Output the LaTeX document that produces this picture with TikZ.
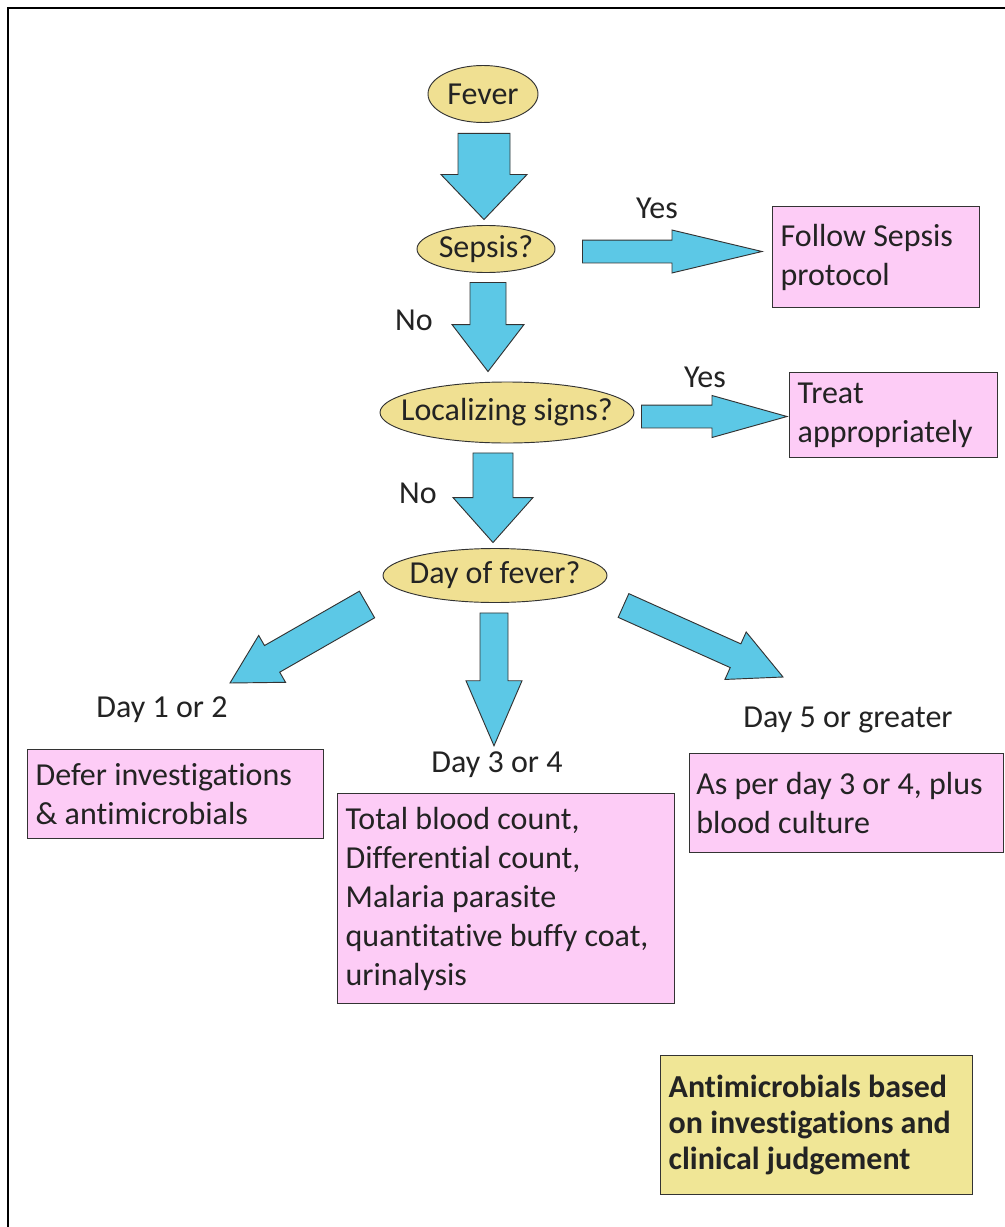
\documentclass[tikz,border=0pt]{standalone}
\usepackage{fontspec}
\setmainfont{Carlito}[Ligatures=NoCommon]
\usetikzlibrary{shapes.geometric,calc}
\definecolor{ellfill}{RGB}{240,224,146}
\definecolor{boxpink}{RGB}{253,204,246}
\definecolor{arrowcyan}{RGB}{92,200,230}
\definecolor{notefill}{RGB}{240,230,150}
\definecolor{txt}{RGB}{35,35,35}
\newcommand{\blockarrow}[5]{%
  \coordinate (bahead) at ($(#2)!#5!(#1)$);
  \draw[barrowstyle] ($(#1)!#3!90:(#2)$) -- ($(bahead)!#3!90:(#2)$) -- ($(bahead)!#4!90:(#2)$) -- (#2) -- ($(bahead)!#4!-90:(#2)$) -- ($(bahead)!#3!-90:(#2)$) -- ($(#1)!#3!-90:(#2)$) -- cycle;}
\begin{document}
\begin{tikzpicture}[x=0.75pt,y=-0.75pt,
  mainfont/.style={font=\fontsize{24}{29.25}\selectfont},
  lbl/.style={mainfont, text=txt, inner sep=0pt},
  ell/.style={ellipse, draw=black!80, line width=0.7pt, fill=ellfill, inner sep=0pt},
  infobox/.style={draw=black!80, line width=1pt, fill=boxpink, align=flush left, anchor=north west, inner xsep=6pt, inner ysep=0pt, mainfont, text=txt},
  barrowstyle/.style={fill=arrowcyan, draw=black!80, line width=0.7pt, line join=miter}]
\useasboundingbox (0,0) rectangle (1005,1227);
\fill[white] (0,0) rectangle (1005,1227);
\draw[line width=1.5pt] (8,1227) -- (8,8.5) -- (1005,8.5);

% decision ellipses
\node[ell, minimum width=82.5pt, minimum height=42.75pt, label={[lbl]center:Fever}] (fever) at (483,94) {};
\node[ell, minimum width=103.5pt, minimum height=35.25pt, label={[lbl]center:Sepsis?}] (sepsis) at (486,249) {};
\node[ell, minimum width=190.5pt, minimum height=45.75pt, label={[lbl]center:Localizing signs?}] (loc) at (507,412.5) {};
\node[ell, minimum width=168pt, minimum height=40.5pt, label={[lbl]center:Day of fever?}] (day) at (495,575.5) {};

% boxes
\node[infobox, minimum width=155.25pt, minimum height=75.75pt, text width=143.25pt] (follow) at (772,206) {\mbox{Follow Sepsis}\\\mbox{protocol}};
\node[infobox, minimum width=156pt, minimum height=63.75pt, text width=144pt, inner xsep=4pt] (treat) at (789,372) {\mbox{Treat}\\\mbox{appropriately}};
\node[infobox, minimum width=222pt, minimum height=66.75pt, text width=210pt] (defer) at (27,749) {\mbox{Defer investigations}\\\mbox{\& antimicrobials}};
\node[infobox, minimum width=252.75pt, minimum height=157.5pt, text width=240.75pt] (tests) at (337,793) {\mbox{Total blood count,}\\\mbox{Differential count,}\\\mbox{Malaria parasite}\\\mbox{quantitative buffy coat,}\\\mbox{urinalysis}};
\node[infobox, minimum width=235.5pt, minimum height=74.25pt, text width=225.5pt, inner xsep=5pt] (culture) at (689,753) {\mbox{As per day 3 or 4, plus}\\\mbox{blood culture}};
\node[infobox, fill=notefill, minimum width=234pt, minimum height=104.25pt, text width=222pt, font=\fontsize{24}{27}\selectfont\bfseries] (note) at (660,1055) {\mbox{Antimicrobials based}\\\mbox{on investigations and}\\\mbox{clinical judgement}};

% labels
\node[lbl] (yes1) at (657,208) {Yes};
\node[lbl] (yes2) at (705,377) {Yes};
\node[lbl] (no1) at (414,320) {No};
\node[lbl] (no2) at (418,493) {No};
\node[lbl] (d12) at (162,710) {Day 1 or 2};
\node[lbl] (d34) at (497,765) {Day 3 or 4};
\node[lbl] (d5) at (848,720) {Day 5 or greater};

% arrow end points
\coordinate (a1s) at ($(fever.south)+(1,10.5)$);
\coordinate (t1) at ($(sepsis.north)+(0,-5.5)$);
\coordinate (a1e) at (a1s |- t1);
\coordinate (a2s) at ($(sepsis.south)+(2,9.5)$);
\coordinate (t2) at ($(loc.north)+(0,-10)$);
\coordinate (a2e) at (a2s |- t2);
\coordinate (a3s) at ($(loc.south)+(-14,9.5)$);
\coordinate (t3) at ($(day.north)+(0,-5.5)$);
\coordinate (a3e) at (a3s |- t3);
\coordinate (a4s) at ($(day.south)+(-1,10)$);
\coordinate (t4) at ($(d34.north)+(0,-6)$);
\coordinate (a4e) at (a4s |- t4);
\coordinate (a5s) at ($(sepsis.east)+(27,2.5)$);
\coordinate (t5) at ($(follow.west)+(-10,0)$);
\coordinate (a5e) at (t5 |- a5s);
\coordinate (a6s) at ($(loc.east)+(7,4)$);
\coordinate (t6) at ($(treat.west)+(-2,0)$);
\coordinate (a6e) at (t6 |- a6s);
\coordinate (a7s) at ($(day.center)+(-128,29)$);
\coordinate (a7e) at ($(day.center)+(-265,107.5)$);
\coordinate (a8s) at ($(day.center)+(128.5,30)$);
\coordinate (a8e) at ($(day.center)+(288,101.5)$);

% block arrows
\blockarrow{a1s}{a1e}{19.5pt}{32.25pt}{33.75pt}
\blockarrow{a2s}{a2e}{13.5pt}{27pt}{35.25pt}
\blockarrow{a3s}{a3e}{15pt}{30pt}{33.75pt}
\blockarrow{a4s}{a4e}{10.5pt}{21pt}{48.75pt}
\blockarrow{a5s}{a5e}{8.6pt}{16.1pt}{67.5pt}
\blockarrow{a6s}{a6e}{8.6pt}{15.75pt}{56.25pt}
\blockarrow{a7s}{a7e}{11.5pt}{20.25pt}{36.4pt}
\blockarrow{a8s}{a8e}{9.75pt}{19.5pt}{39pt}
\end{tikzpicture}
\end{document}
